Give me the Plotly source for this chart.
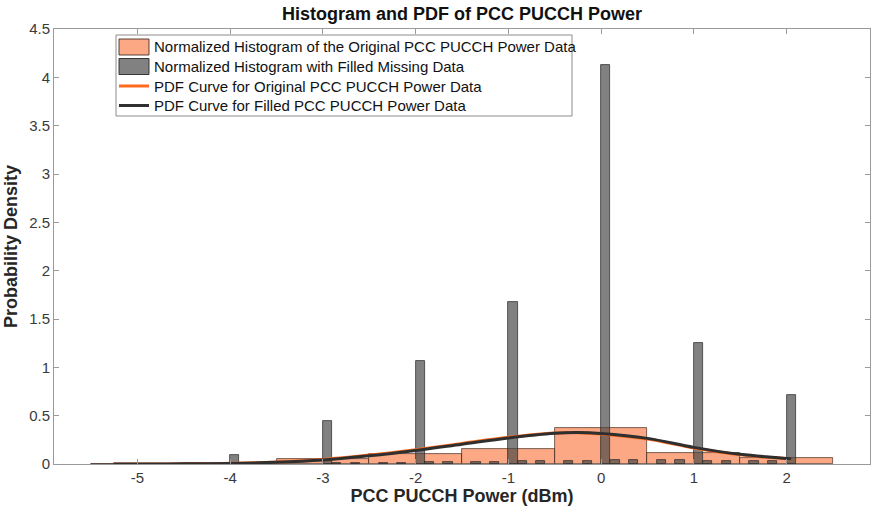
import plotly.graph_objects as go

# Normalized histogram of the original data (bin centres, unit-width bins)
orig_bin_centers = [-5, -4, -3, -2, -1, 0, 1, 2]
orig_density = [0.0, 0.006, 0.049, 0.108, 0.160, 0.377, 0.118, 0.065]
orig_bin_width = 1.0

# Normalized histogram with filled missing data (left edges of 0.1-wide bins)
filled_bin_left = [
    -4.0,
    -3.0, -2.9, -2.7, -2.4, -2.2,
    -2.0, -1.9, -1.7, -1.4, -1.2,
    -1.0, -0.9, -0.7, -0.4, -0.2,
    0.0, 0.1, 0.3, 0.6, 0.8,
    1.0, 1.1, 1.3, 1.6, 1.8,
    2.0,
]
filled_density = [
    0.090,
    0.442, 0.010, 0.010, 0.010, 0.010,
    1.064, 0.020, 0.020, 0.020, 0.020,
    1.676, 0.035, 0.035, 0.035, 0.035,
    4.124, 0.040, 0.040, 0.040, 0.040,
    1.254, 0.030, 0.030, 0.030, 0.030,
    0.719,
]
filled_bin_width = 0.1

# Fitted PDF curves
pdf_x = [-5.26, -5.0, -4.5, -4.0, -3.5, -3.0, -2.5, -2.0, -1.5, -1.0,
         -0.5, -0.25, 0.0, 0.5, 1.0, 1.5, 2.05]
pdf_orig = [0.000, 0.000, 0.002, 0.007, 0.021, 0.047, 0.092, 0.148, 0.213,
            0.276, 0.320, 0.324, 0.311, 0.258, 0.166, 0.096, 0.052]
pdf_filled = [0.000, 0.000, 0.002, 0.006, 0.018, 0.042, 0.085, 0.140, 0.205,
              0.270, 0.318, 0.325, 0.315, 0.265, 0.172, 0.100, 0.055]

x_ticks = [-5, -4, -3, -2, -1, 0, 1, 2]
y_ticks = [0, 0.5, 1, 1.5, 2, 2.5, 3, 3.5, 4, 4.5]

legend_labels = [
    "Normalized Histogram of the Original PCC PUCCH Power Data",
    "Normalized Histogram with Filled Missing Data",
    "PDF Curve for Original PCC PUCCH Power Data",
    "PDF Curve for Filled PCC PUCCH Power Data",
]

FONT = "Arial, Liberation Sans, sans-serif"
AXIS_COLOR = "#9a9a9a"
TICK_FONT = dict(family=FONT, size=15, color="#3a3a3a")
LABEL_FONT = dict(family=FONT, size=18, color="#262626")

ORANGE_FILL = "rgba(250,110,50,0.6)"
ORANGE_EDGE = "rgba(60,40,30,0.85)"
GRAY_FILL = "rgba(70,70,70,0.68)"
GRAY_EDGE = "rgba(40,40,40,0.9)"
ORANGE_LINE = "#ff6a1f"
DARK_LINE = "#2f2f2f"

W, H = 878, 515
M_L, M_R, M_T, M_B = 54, 8, 29, 51
PLOT_W = W - M_L - M_R
PLOT_H = H - M_T - M_B

fig = go.Figure()

fig.add_trace(go.Bar(
    x=orig_bin_centers,
    y=orig_density,
    width=[orig_bin_width] * len(orig_bin_centers),
    marker=dict(color=ORANGE_FILL, line=dict(color=ORANGE_EDGE, width=0.8)),
    name=legend_labels[0],
))

fig.add_trace(go.Bar(
    x=[v + filled_bin_width / 2 for v in filled_bin_left],
    y=filled_density,
    width=[filled_bin_width] * len(filled_bin_left),
    marker=dict(color=GRAY_FILL, line=dict(color=GRAY_EDGE, width=0.8)),
    name=legend_labels[1],
))

fig.add_trace(go.Scatter(
    x=pdf_x, y=pdf_orig, mode="lines",
    line=dict(color=ORANGE_LINE, width=3, shape="spline", smoothing=1.0),
    name=legend_labels[2],
))

fig.add_trace(go.Scatter(
    x=pdf_x, y=pdf_filled, mode="lines",
    line=dict(color=DARK_LINE, width=3, shape="spline", smoothing=1.0),
    name=legend_labels[3],
))


# Legend box drawn in pixel units converted to paper coordinates
def px(x):
    return (x - M_L) / PLOT_W


def py(y):
    return (H - M_B - y) / PLOT_H


shapes = [dict(type="rect", xref="paper", yref="paper",
               x0=px(116), x1=px(572), y0=py(116), y1=py(35),
               fillcolor="white", line=dict(color="#8c8c8c", width=1),
               layer="above")]
annotations = []
row_y = [47, 66.5, 86, 105.5]
sym_x0, sym_x1 = 119, 149
for i, (label, ry) in enumerate(zip(legend_labels, row_y)):
    if i == 0:
        shapes.append(dict(type="rect", xref="paper", yref="paper",
                           x0=px(sym_x0), x1=px(sym_x1),
                           y0=py(ry + 8), y1=py(ry - 8),
                           fillcolor=ORANGE_FILL,
                           line=dict(color=ORANGE_EDGE, width=1),
                           layer="above"))
    elif i == 1:
        shapes.append(dict(type="rect", xref="paper", yref="paper",
                           x0=px(sym_x0), x1=px(sym_x1),
                           y0=py(ry + 8), y1=py(ry - 8),
                           fillcolor=GRAY_FILL,
                           line=dict(color=GRAY_EDGE, width=1),
                           layer="above"))
    else:
        color = ORANGE_LINE if i == 2 else DARK_LINE
        shapes.append(dict(type="line", xref="paper", yref="paper",
                           x0=px(sym_x0), x1=px(sym_x1),
                           y0=py(ry), y1=py(ry),
                           line=dict(color=color, width=3),
                           layer="above"))
    annotations.append(dict(
        text=label, xref="paper", yref="paper",
        x=px(152), y=py(ry), xanchor="left", yanchor="middle",
        showarrow=False,
        font=dict(family=FONT, size=15, color="#111111"),
    ))

fig.update_layout(
    width=W, height=H,
    margin=dict(l=M_L, r=M_R, t=M_T, b=M_B),
    paper_bgcolor="white", plot_bgcolor="white",
    barmode="overlay", bargap=0,
    font=dict(family=FONT, size=15, color="#262626"),
    title=dict(
        text="<b>Histogram and PDF of PCC PUCCH Power</b>",
        x=(M_L + W - M_R) / 2 / W, xanchor="center",
        y=1 - 14 / H, yanchor="middle",
        font=dict(family=FONT, size=18, color="#111111"),
    ),
    showlegend=False,
    shapes=shapes,
    annotations=annotations,
)

fig.update_xaxes(
    range=[-5.9, 2.9],
    tickvals=x_ticks, ticktext=[str(t) for t in x_ticks],
    ticks="inside", ticklen=5, tickcolor=AXIS_COLOR,
    showline=True, linecolor=AXIS_COLOR, linewidth=1, mirror="ticks",
    showgrid=False, zeroline=False,
    tickfont=TICK_FONT,
    title=dict(text="<b>PCC PUCCH Power (dBm)</b>", standoff=4,
               font=LABEL_FONT),
)

fig.update_yaxes(
    range=[0, 4.5],
    tickvals=y_ticks, ticktext=[f"{t:g}" for t in y_ticks],
    ticks="inside", ticklen=5, tickcolor=AXIS_COLOR,
    showline=True, linecolor=AXIS_COLOR, linewidth=1, mirror="ticks",
    showgrid=False, zeroline=False,
    tickfont=TICK_FONT,
    title=dict(text="<b>Probability Density</b>", standoff=6,
               font=LABEL_FONT),
)

fig.write_html("out.html")
